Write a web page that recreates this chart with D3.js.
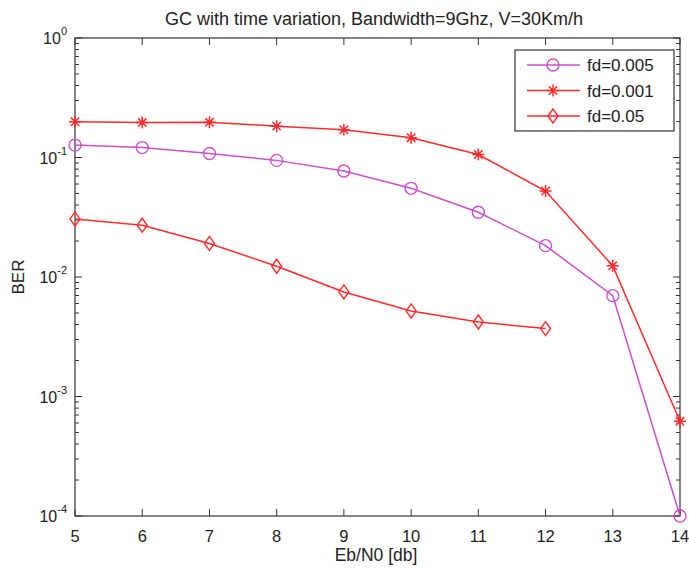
<!DOCTYPE html>
<html><head><meta charset="utf-8">
<script src="https://cdn.jsdelivr.net/npm/d3@7"></script>
<style>body{margin:0;background:#fff}text{font-family:"Liberation Sans",Arial,sans-serif}</style>
</head><body><svg id="c" width="689" height="569"></svg>
<script>
const ebn0 = [5,6,7,8,9,10,11,12,13,14];
const ber_fd0005 = [0.127,0.121,0.108,0.0946,0.077,0.0552,0.0348,0.0183,0.00698,0.0001];
const ber_fd0001 = [0.199,0.196,0.197,0.183,0.171,0.1465,0.106,0.0524,0.0124,0.00062];
const ebn0_fd005 = [5,6,7,8,9,10,11,12];
const ber_fd005 = [0.0306,0.0271,0.0191,0.0123,0.0075,0.0052,0.0042,0.0037];
const xTicks = [5,6,7,8,9,10,11,12,13,14];
const yExponents = [0,-1,-2,-3,-4];
const seriesNames = ["fd=0.005","fd=0.001","fd=0.05"];
const title = "GC with time variation, Bandwidth=9Ghz, V=30Km/h";

const svg = d3.select("#c");
const L=75,R=680,T=38,B=516;
const x = d3.scaleLinear().domain([5,14]).range([L,R]);
const y = d3.scaleLog().domain([1e-4,1]).range([B,T]);
const MAG="#cc4fcc", RED="#ff2b2b";

const g = svg.append("g");
const minor = [];
for (let e=-4;e<0;e++) for (let m=2;m<=9;m++) minor.push(m*Math.pow(10,e));
minor.forEach(v=>{
  g.append("line").attr("x1",L).attr("x2",L+4).attr("y1",y(v)).attr("y2",y(v)).attr("stroke","#333");
  g.append("line").attr("x1",R).attr("x2",R-4).attr("y1",y(v)).attr("y2",y(v)).attr("stroke","#333");
});
yExponents.forEach(e=>{
  const v=Math.pow(10,e);
  g.append("line").attr("x1",L).attr("x2",L+7).attr("y1",y(v)).attr("y2",y(v)).attr("stroke","#333");
  g.append("line").attr("x1",R).attr("x2",R-7).attr("y1",y(v)).attr("y2",y(v)).attr("stroke","#333");
  const t=g.append("text").attr("x",L-8).attr("y",y(v)+6).attr("text-anchor","end").attr("font-size",16).attr("fill","#222");
  t.append("tspan").text("10");
  t.append("tspan").attr("dy",-9).attr("font-size",11).text(e);
});
xTicks.forEach(v=>{
  g.append("line").attr("x1",x(v)).attr("x2",x(v)).attr("y1",B).attr("y2",B-7).attr("stroke","#333");
  g.append("line").attr("x1",x(v)).attr("x2",x(v)).attr("y1",T).attr("y2",T+7).attr("stroke","#333");
  g.append("text").attr("x",x(v)).attr("y",B+26).attr("text-anchor","middle").attr("font-size",16.5).attr("fill","#222").text(v);
});
svg.append("rect").attr("x",L).attr("y",T).attr("width",R-L).attr("height",B-T).attr("fill","none").attr("stroke","#333").attr("stroke-width",1.2);

svg.append("text").attr("x",374).attr("y",25).attr("text-anchor","middle").attr("font-size",18).attr("fill","#222").text(title);
svg.append("text").attr("x",376).attr("y",561).attr("text-anchor","middle").attr("font-size",17.5).attr("fill","#222").text("Eb/N0 [db]");
svg.append("text").attr("transform","translate(24,"+((T+B)/2)+") rotate(-90)").attr("text-anchor","middle").attr("font-size",17).attr("fill","#222").text("BER");

const line = d3.line().x(d=>x(d[0])).y(d=>y(d[1]));
function marker(sel,type,color,cx,cy){
  if(type==="circle") sel.append("circle").attr("cx",cx).attr("cy",cy).attr("r",6).attr("fill","none").attr("stroke",color).attr("stroke-width",1.4);
  else if(type==="star"){
    const s=6;
    const p=`M${cx-s},${cy}H${cx+s}M${cx},${cy-s}V${cy+s}M${cx-s*0.7},${cy-s*0.7}L${cx+s*0.7},${cy+s*0.7}M${cx-s*0.7},${cy+s*0.7}L${cx+s*0.7},${cy-s*0.7}`;
    sel.append("path").attr("d",p).attr("stroke",color).attr("stroke-width",1.5).attr("fill","none");
  } else {
    sel.append("path").attr("d",`M${cx},${cy-7}L${cx+5},${cy}L${cx},${cy+7}L${cx-5},${cy}Z`).attr("fill","none").attr("stroke",color).attr("stroke-width",1.4);
  }
}
const series=[
  {xs:ebn0,ys:ber_fd0005,color:MAG,type:"circle"},
  {xs:ebn0,ys:ber_fd0001,color:RED,type:"star"},
  {xs:ebn0_fd005,ys:ber_fd005,color:RED,type:"diamond"}
];
series.forEach(s=>{
  const data=s.xs.map((v,i)=>[v,s.ys[i]]);
  svg.append("path").attr("d",line(data)).attr("fill","none").attr("stroke",s.color).attr("stroke-width",1.5);
  data.forEach(d=>marker(svg,s.type,s.color,x(d[0]),y(d[1])));
});

const lg=svg.append("g");
lg.append("rect").attr("x",515).attr("y",50).attr("width",159).attr("height",81).attr("fill","#fff").attr("stroke","#333").attr("stroke-width",1.2);
series.forEach((s,i)=>{
  const ly=65+i*25.5;
  lg.append("line").attr("x1",527).attr("x2",580).attr("y1",ly).attr("y2",ly).attr("stroke",s.color).attr("stroke-width",1.5);
  marker(lg,s.type,s.color,553,ly);
  lg.append("text").attr("x",587).attr("y",ly+6).attr("font-size",17).attr("fill","#222").text(seriesNames[i]);
});
</script></body></html>
